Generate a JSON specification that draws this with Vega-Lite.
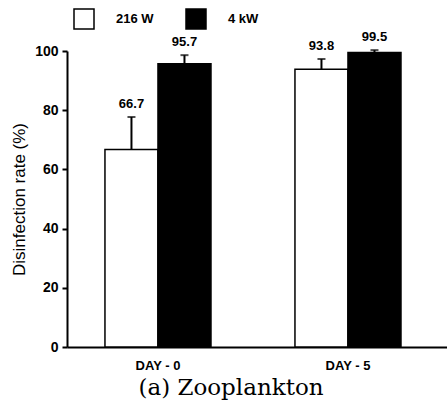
{
  "$schema": "https://vega.github.io/schema/vega-lite/v6.json",
  "width": 380,
  "height": 296,
  "autosize": {"type": "none"},
  "padding": {"left": 67, "top": 51, "right": 0, "bottom": 56},
  "background": "white",
  "config": {
    "view": {"stroke": null},
    "font": "Liberation Sans"
  },
  "title": {
    "text": "(a) Zooplankton",
    "orient": "bottom",
    "font": "DejaVu Serif",
    "fontSize": 23,
    "fontWeight": "normal",
    "color": "black",
    "anchor": "middle",
    "dx": -26,
    "offset": 5
  },
  "data": {
    "values": [
      {"day": "DAY - 0", "power": "216 W", "value": 66.7, "err": 77.7},
      {"day": "DAY - 0", "power": "4 kW", "value": 95.7, "err": 98.6},
      {"day": "DAY - 5", "power": "216 W", "value": 93.8, "err": 97.3},
      {"day": "DAY - 5", "power": "4 kW", "value": 99.5, "err": 100.3}
    ]
  },
  "encoding": {
    "x": {
      "field": "day",
      "type": "nominal",
      "scale": {"paddingInner": 0.442, "paddingOuter": 0.221, "align": 0.452},
      "axis": {
        "title": null,
        "labelAngle": 0,
        "ticks": false,
        "labelPadding": 12,
        "labelFont": "Liberation Sans",
        "labelFontSize": 13,
        "labelFontWeight": "bold",
        "labelColor": "black",
        "domainColor": "black",
        "domainWidth": 2
      }
    },
    "xOffset": {"field": "power", "type": "nominal", "scale": {"paddingInner": 0, "paddingOuter": 0}}
  },
  "layer": [
    {
      "mark": {"type": "bar", "stroke": "black", "strokeWidth": 1.5},
      "encoding": {
        "y": {
          "field": "value",
          "type": "quantitative",
          "scale": {"domain": [0, 100], "nice": false},
          "axis": {
            "title": "Disinfection rate (%)",
            "titleFont": "Liberation Sans",
            "titleFontSize": 17,
            "titleFontWeight": "normal",
            "titleColor": "black",
            "titlePadding": 6,
            "values": [0, 20, 40, 60, 80, 100],
            "grid": false,
            "tickSize": 5,
            "tickWidth": 2,
            "tickColor": "black",
            "labelPadding": 4,
            "labelFont": "Liberation Sans",
            "labelFontSize": 14,
            "labelFontWeight": "bold",
            "labelColor": "black",
            "domainColor": "black",
            "domainWidth": 2
          }
        },
        "fill": {
          "field": "power",
          "type": "nominal",
          "scale": {"domain": ["216 W", "4 kW"], "range": ["white", "black"]},
          "legend": {
            "title": null,
            "orient": "none",
            "legendX": 6,
            "legendY": -43,
            "direction": "horizontal",
            "symbolType": "square",
            "symbolSize": 400,
            "symbolStrokeColor": "black",
            "symbolStrokeWidth": 1.5,
            "labelFont": "Liberation Sans",
            "labelFontSize": 13,
            "labelFontWeight": "bold",
            "labelColor": "black",
            "labelOffset": 21,
            "columnPadding": 29,
            "padding": 0
          }
        }
      }
    },
    {
      "mark": {"type": "rule", "color": "black", "strokeWidth": 2},
      "encoding": {
        "y": {"field": "value", "type": "quantitative"},
        "y2": {"field": "err"}
      }
    },
    {
      "mark": {"type": "tick", "color": "black", "thickness": 2, "size": 8},
      "encoding": {
        "y": {"field": "err", "type": "quantitative"}
      }
    },
    {
      "mark": {"type": "text", "baseline": "bottom", "dy": -6, "font": "Liberation Sans", "fontSize": 13, "fontWeight": "bold", "color": "black"},
      "encoding": {
        "y": {"field": "err", "type": "quantitative"},
        "text": {"field": "value", "type": "quantitative", "format": ".1f"}
      }
    }
  ]
}
